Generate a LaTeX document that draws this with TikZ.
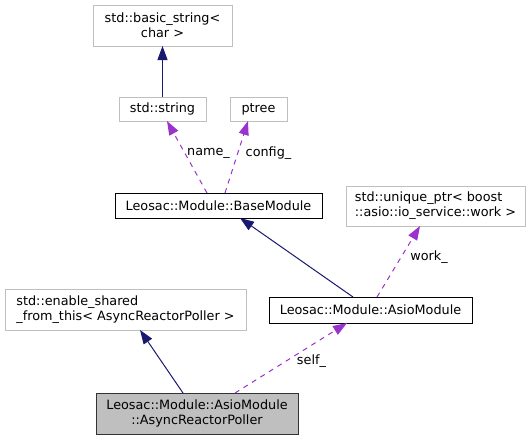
\documentclass[tikz,border=0pt]{standalone}
\usepackage{fontspec}
\setmainfont{DejaVu Sans}
\usetikzlibrary{arrows.meta}
\definecolor{edgenavy}{HTML}{191970}
\definecolor{edgepurple}{HTML}{9A32CD}
\definecolor{boxgray}{HTML}{BFBFBF}
\begin{document}
\begin{tikzpicture}[x=1pt,y=-1pt,
  every node/.style={font=\fontsize{12.8}{15}\selectfont, inner sep=0pt, outer sep=0pt},
  extbox/.style={draw=boxgray, line width=1pt, fill=white, align=center},
  leftbox/.style={draw=boxgray, line width=1pt, fill=white, align=left},
  clsbox/.style={draw=black, line width=1pt, fill=white, align=center},
  curbox/.style={draw=black!80, line width=1pt, fill=boxgray, align=center},
  inherit/.style={draw=edgenavy, line width=1pt, -{Triangle[length=14pt,width=10pt]}},
  usage/.style={draw=edgepurple, line width=1pt, dash pattern=on 5pt off 5pt, -{Triangle[length=14pt,width=10pt]}},
  elabel/.style={font=\fontsize{12.8}{15}\selectfont}
]
\useasboundingbox (0,0) rectangle (531,440);
\node[extbox, minimum width=139pt, minimum height=41pt] (bstr) at (162.5,25.5) {std::basic\_string<\\char >};
\node[extbox, minimum width=87pt, minimum height=24pt] (str) at (162.5,109) {std::string};
\node[extbox, minimum width=57pt, minimum height=24pt] (ptree) at (258.5,109) {ptree};
\node[clsbox, minimum width=207pt, minimum height=25pt] (base) at (218.5,205.5) {Leosac::Module::BaseModule};
\node[leftbox, minimum width=179pt, minimum height=40pt] (uptr) at (435.5,206) {std::unique\_ptr< boost\\::asio::io\_service::work >};
\node[clsbox, minimum width=203pt, minimum height=26pt] (asio) at (370.5,310) {Leosac::Module::AsioModule};
\node[leftbox, minimum width=241pt, minimum height=41pt] (esft) at (125.5,309.5) {std::enable\_shared\\\_from\_this< AsyncReactorPoller >};
\node[curbox, minimum width=202pt, minimum height=41pt] (poller) at (197,413.5) {Leosac::Module::AsioModule\\::AsyncReactorPoller};

\draw[inherit] (str.north) -- (bstr.south);
\draw[usage] ([xshift=-11.5pt]base.north) -- ([xshift=4.5pt]str.south);
\draw[usage] ([xshift=6.5pt]base.north) -- ([xshift=-10.5pt]ptree.south);
\draw[inherit] ([xshift=-17.5pt]asio.north) -- ([xshift=21.5pt]base.south);
\draw[usage] ([xshift=6.5pt]asio.north) -- ([xshift=-15.5pt]uptr.south);
\draw[inherit] ([xshift=-14pt]poller.north) -- ([xshift=14.5pt]esft.south);
\draw[usage] ([xshift=38pt]poller.north) -- ([xshift=-23.5pt]asio.south);

\node[elabel] (lname) at (208.5,153) {name\_};
\node[elabel] (lconf) at (268.5,153) {config\_};
\node[elabel] (lwork) at (429,257) {work\_};
\node[elabel] (lself) at (311.5,361) {self\_};
\end{tikzpicture}
\end{document}
